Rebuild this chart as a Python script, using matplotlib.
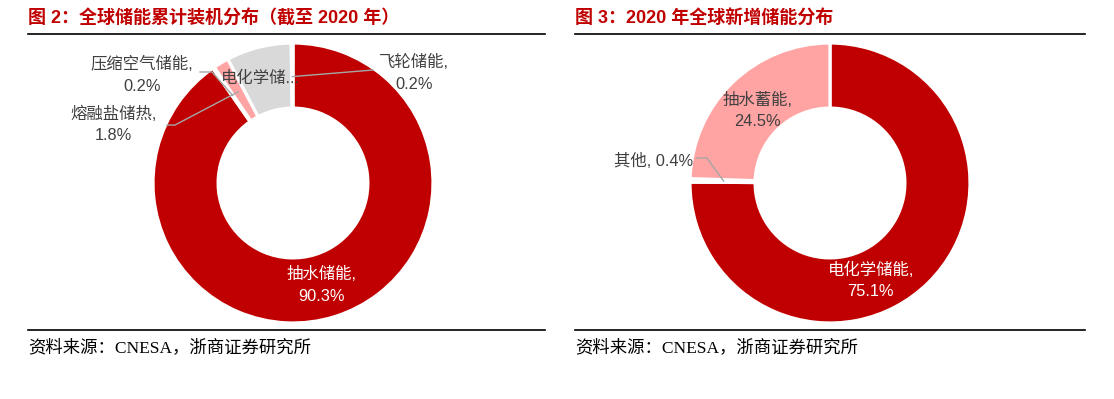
import numpy as np
import matplotlib.pyplot as plt
from matplotlib.lines import Line2D

plt.rcParams['font.family'] = ['Liberation Sans', 'Noto Sans CJK SC']

# 图2: 全球储能累计装机分布 (截至2020年), clockwise from 12 o'clock
cum_labels = ['抽水储能', '压缩空气储能', '熔融盐储热', '电化学储能', '飞轮储能']
cum_values = [90.3, 0.2, 1.8, 7.5, 0.2]
cum_colors = ['#C00000', '#E06666', '#FFA3A3', '#D9D9D9', '#7F7F7F']

# 图3: 2020年全球新增储能分布
new_labels = ['电化学储能', '其他', '抽水蓄能']
new_values = [75.1, 0.4, 24.5]
new_colors = ['#C00000', '#BFBFBF', '#FFA3A3']

W, H = 1114, 399
R = 140  # donut radius in px
fig = plt.figure(figsize=(W / 100, H / 100), dpi=100)

txt_col = '#404040'
line_col = '#A6A6A6'
lab_fs = 11.8


def px_axes(cx, cy, x0, x1, y0, y1):
    ax = fig.add_axes([x0 / W, 1 - y1 / H, (x1 - x0) / W, (y1 - y0) / H])
    return ax, ((x0 - cx) / R, (x1 - cx) / R), ((cy - y1) / R, (cy - y0) / R)


def donut(ax, values, colors, xl, yl):
    wedges, _ = ax.pie(values, colors=colors, startangle=90, counterclock=False,
                       radius=1, wedgeprops=dict(width=0.465, edgecolor='white', linewidth=2.3))
    ax.set_xlim(*xl)
    ax.set_ylim(*yl)
    ax.axis('off')
    mids = []
    for w in wedges:
        a = np.deg2rad((w.theta1 + w.theta2) / 2)
        mids.append((0.76 * np.cos(a), 0.76 * np.sin(a)))
    return mids


def pct(v):
    return f'{v:.1f}%'


# ---- left chart
axL, xl, yl = px_axes(293, 183, 28, 545, 36, 330)
mL = donut(axL, cum_values, cum_colors, xl, yl)

axL.text(0.207, -0.729, f'{cum_labels[0]},\n{pct(cum_values[0])}', color='white',
         fontsize=lab_fs, ha='center', va='center', linespacing=1.55)
axL.text(-0.23, 0.75, '电化学储...', color=txt_col, fontsize=lab_fs, ha='center', va='center')
axL.text(0.865, 0.786, f'{cum_labels[4]},\n{pct(cum_values[4])}', color=txt_col,
         fontsize=lab_fs, ha='center', va='center', linespacing=1.55)
axL.text(-1.08, 0.77, f'{cum_labels[1]},\n{pct(cum_values[1])}', color=txt_col,
         fontsize=lab_fs, ha='center', va='center', linespacing=1.55)
axL.text(-1.28, 0.418, f'{cum_labels[2]},\n{pct(cum_values[2])}', color=txt_col,
         fontsize=lab_fs, ha='center', va='center', linespacing=1.55)

# leader lines
axL.plot([mL[4][0], 0.571], [mL[4][1], 0.807], color=line_col, lw=1)
axL.plot([mL[1][0], -0.579, -0.664], [mL[1][1], 0.793, 0.793], color=line_col, lw=1)
axL.plot([mL[2][0], -0.843, -0.90], [mL[2][1], 0.414, 0.414], color=line_col, lw=1)

# ---- right chart
axR, xr, yr = px_axes(830, 183, 575, 1085, 36, 330)
mR = donut(axR, new_values, new_colors, xr, yr)

axR.text(0.29, -0.696, f'{new_labels[0]},\n{pct(new_values[0])}', color='white',
         fontsize=lab_fs, ha='center', va='center', linespacing=1.55)
axR.text(-0.521, 0.518, f'{new_labels[2]},\n{pct(new_values[2])}', color=txt_col,
         fontsize=lab_fs, ha='center', va='center', linespacing=1.55)
axR.text(-0.975, 0.157, f'{new_labels[1]}, {pct(new_values[1])}', color=txt_col,
         fontsize=lab_fs, ha='right', va='center')
axR.plot([mR[1][0], -0.879, -0.95], [mR[1][1], 0.179, 0.179], color=line_col, lw=1)

# ---- titles, rules, sources
for x0, x1, title in [(28, 545, '图 2：全球储能累计装机分布（截至 2020 年）'),
                      (575, 1085, '图 3：2020 年全球新增储能分布')]:
    fig.text(x0 / W, 1 - 18 / H, title, fontsize=13, fontweight='bold', color='#C00000',
             va='center', ha='left')
    fig.add_artist(Line2D([x0 / W, x1 / W], [1 - 34 / H] * 2, color='black', lw=1.2))
    fig.add_artist(Line2D([x0 / W, x1 / W], [1 - 330 / H] * 2, color='black', lw=1.2))
    fig.text(x0 / W, 1 - 348 / H, '资料来源：CNESA，浙商证券研究所', fontsize=12.5,
             color='black', va='center', ha='left',
             family=['Liberation Serif', 'Noto Sans CJK SC'])

fig.savefig('out.png', dpi=100)
